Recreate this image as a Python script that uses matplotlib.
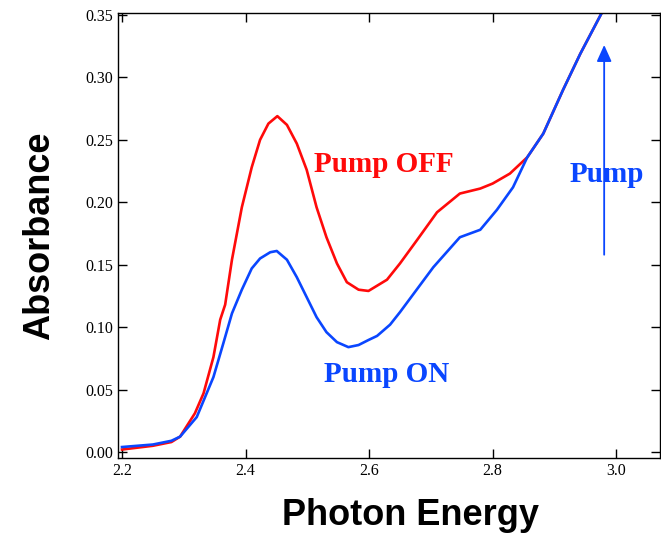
import matplotlib

matplotlib.use("Agg")
import matplotlib.pyplot as plt

# Pump OFF trace (photon energy, absorbance)
off_energy = [2.20, 2.25, 2.28, 2.294, 2.318, 2.332, 2.348, 2.359, 2.367, 2.378,
              2.394, 2.41, 2.4235, 2.437, 2.4515, 2.467, 2.483, 2.499, 2.515,
              2.531, 2.548, 2.564, 2.583, 2.599, 2.629, 2.65, 2.678, 2.71, 2.747,
              2.78, 2.80, 2.828, 2.856]
off_abs = [0.002, 0.005, 0.008, 0.0123, 0.031, 0.047, 0.076, 0.106, 0.118, 0.154,
           0.196, 0.228, 0.250, 0.263, 0.269, 0.262, 0.247, 0.226, 0.196,
           0.172, 0.151, 0.136, 0.130, 0.129, 0.138, 0.151, 0.170, 0.192, 0.207,
           0.211, 0.215, 0.223, 0.236]

# Pump ON trace
on_energy = [2.20, 2.25, 2.28, 2.294, 2.321, 2.348, 2.364, 2.378, 2.394, 2.41,
             2.4235, 2.44, 2.4505, 2.467, 2.483, 2.499, 2.515, 2.531, 2.548,
             2.5665, 2.583, 2.599, 2.613, 2.634, 2.65, 2.704, 2.747, 2.78,
             2.807, 2.833, 2.856, 2.882, 2.914, 2.942, 2.977]
on_abs = [0.004, 0.006, 0.009, 0.0123, 0.028, 0.060, 0.087, 0.111, 0.130, 0.147,
          0.155, 0.160, 0.161, 0.154, 0.140, 0.124, 0.108, 0.096, 0.088,
          0.084, 0.0857, 0.0897, 0.093, 0.102, 0.112, 0.148, 0.172, 0.178,
          0.194, 0.212, 0.236, 0.255, 0.290, 0.319, 0.352]

x_ticks = [2.2, 2.4, 2.6, 2.8, 3.0]
y_ticks = [0.00, 0.05, 0.10, 0.15, 0.20, 0.25, 0.30, 0.35]

RED = "#ff0a0a"
BLUE = "#0a46ff"

fig = plt.figure(figsize=(6.61, 5.35), dpi=100)
ax = fig.add_axes([0.1785, 0.1439, 0.8200, 0.8318])

# after ~2.86 eV both traces coincide, red continues under blue
ax.plot(off_energy + on_energy[-5:], off_abs + on_abs[-5:], color=RED, linewidth=1.9)
ax.plot(on_energy, on_abs, color=BLUE, linewidth=1.9)

ax.set_xlim(2.1935, 3.071)
ax.set_ylim(-0.0048, 0.3516)
ax.set_xticks(x_ticks)
ax.set_xticklabels([f"{v:.1f}" for v in x_ticks], family="Liberation Serif", fontsize=11.5)
ax.set_yticks(y_ticks)
ax.set_yticklabels([f"{v:.2f}" for v in y_ticks], family="Liberation Serif", fontsize=11.5)
ax.tick_params(direction="in", length=6.5, width=1, top=True, right=True)
for s in ax.spines.values():
    s.set_linewidth(1.0)

ax.set_xlabel("Photon Energy", family="Liberation Sans", fontweight="bold", fontsize=26)
ax.xaxis.set_label_coords(0.539, -0.089)
ax.set_ylabel("Absorbance", family="Liberation Sans", fontweight="bold", fontsize=26, labelpad=20)

ax.text(2.624, 0.230, "Pump OFF", color=RED, family="Liberation Serif", fontweight="bold",
        fontsize=21, ha="center", va="center")
ax.text(2.629, 0.0617, "Pump ON", color=BLUE, family="Liberation Serif", fontweight="bold",
        fontsize=21, ha="center", va="center")
ax.text(2.984, 0.222, "Pump", color=BLUE, family="Liberation Serif", fontweight="bold",
        fontsize=21, ha="center", va="center")
ax.annotate("", xy=(2.9806, 0.326), xytext=(2.9806, 0.158),
            arrowprops=dict(arrowstyle="-|>,head_length=1.0,head_width=0.45",
                            color=BLUE, lw=1.3, shrinkA=0, shrinkB=0))

fig.savefig("out.png", dpi=100)
